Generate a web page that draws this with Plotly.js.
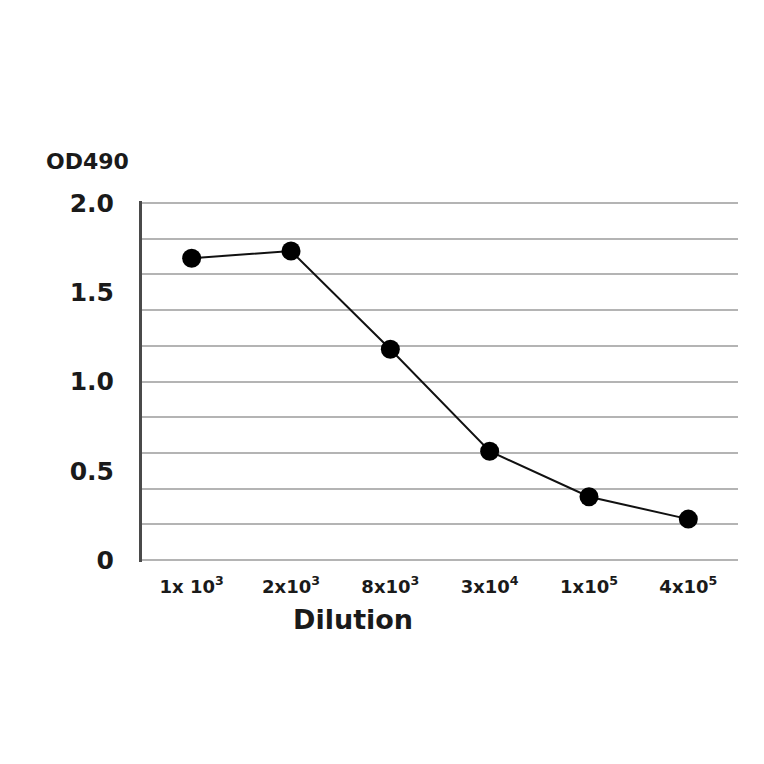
<!DOCTYPE html>
<html>
<head>
<meta charset="utf-8">
<script src="https://cdn.plot.ly/plotly-3.0.1.min.js"></script>
<style>
  html, body { margin: 0; padding: 0; background: #fff; }
  #chart { width: 764px; height: 764px; }
</style>
</head>
<body>
<div id="chart"></div>
<script>
// Dilution series, OD490 readings
const dilutions = ['1x 10<sup>3</sup>', '2x10<sup>3</sup>', '8x10<sup>3</sup>', '3x10<sup>4</sup>', '1x10<sup>5</sup>', '4x10<sup>5</sup>'];
const od490 = [1.69, 1.73, 1.18, 0.61, 0.355, 0.23];
const yTickVals = [0, 0.5, 1.0, 1.5, 2.0];
const yTickText = ['0', '0.5', '1.0', '1.5', '2.0'];

const FONT = 'DejaVu Sans, Verdana, sans-serif';
// a hair of padding so the 0 and 2.0 grid lines are kept
const Y_RANGE = [-0.01, 2.01];

const trace = {
    x: dilutions,
    y: od490,
    type: 'scatter',
    mode: 'lines+markers',
    line: { color: '#111', width: 2 },
    marker: { color: '#000', size: 19 },
    hoverinfo: 'x+y',
    cliponaxis: false,
};

const layout = {
    width: 764,
    height: 764,
    paper_bgcolor: '#fff',
    plot_bgcolor: '#fff',
    showlegend: false,
    margin: { l: 142, r: 26, t: 201, b: 202 },
    font: { family: FONT, color: '#1a1a1a' },
    xaxis: {
        type: 'category',
        range: [-0.5, 5.5],
        showgrid: false,
        zeroline: false,
        showline: false,
        ticks: '',
        ticklabelstandoff: 12,
        tickfont: { family: FONT, size: 18, color: '#1a1a1a', weight: 'bold' },
    },
    // labelled axis: ticks every 0.5, no grid
    yaxis: {
        range: Y_RANGE,
        tickvals: yTickVals,
        ticktext: yTickText,
        showgrid: false,
        zeroline: false,
        showline: true,
        linecolor: '#4a4a4a',
        linewidth: 3,
        ticks: '',
        ticklabelstandoff: 20,
        tickfont: { family: FONT, size: 25, color: '#1a1a1a', weight: 'bold' },
    },
    // grid-only axis: lines every 0.2
    yaxis2: {
        range: Y_RANGE,
        tick0: 0,
        dtick: 0.2,
        overlaying: 'y',
        side: 'left',
        showticklabels: false,
        showgrid: true,
        gridcolor: '#b4b4b4',
        gridwidth: 2,
        zeroline: false,
        ticks: '',
        layer: 'below traces',
    },
    annotations: [
        {
            text: '<b>OD490</b>',
            xref: 'paper', yref: 'paper',
            x: -0.165, y: 1.11,
            xanchor: 'left', yanchor: 'middle',
            showarrow: false,
            font: { family: FONT, size: 22, color: '#1a1a1a' },
        },
        {
            text: '<b>Dilution</b>',
            xref: 'paper', yref: 'paper',
            x: 0.354, y: -0.16,
            xanchor: 'center', yanchor: 'middle',
            showarrow: false,
            font: { family: FONT, size: 27, color: '#1a1a1a' },
        },
    ],
};

// invisible trace so the grid axis gets drawn
const gridTrace = {
    x: dilutions,
    y: od490,
    yaxis: 'y2',
    type: 'scatter',
    mode: 'markers',
    marker: { opacity: 0 },
    hoverinfo: 'skip',
};

Plotly.newPlot('chart', [gridTrace, trace], layout, { displayModeBar: false, responsive: false });
</script>
</body>
</html>
